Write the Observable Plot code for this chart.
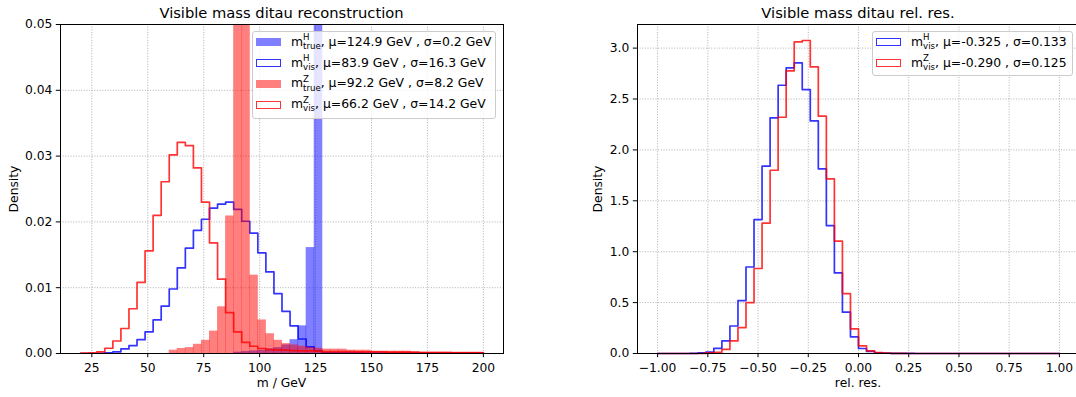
<!DOCTYPE html>
<html><head><meta charset="utf-8">
<script src="https://cdn.jsdelivr.net/npm/d3@7"></script>
<script src="https://cdn.jsdelivr.net/npm/@observablehq/plot@0.6"></script>
<style>
html,body{margin:0;padding:0;background:#fff;overflow:hidden;}
#fig{position:relative;width:1076px;height:397px;overflow:hidden;font-family:"DejaVu Sans",sans-serif;color:#000;}
#fig svg{position:absolute;top:0;}
.t{position:absolute;white-space:nowrap;font-size:12.4px;line-height:14px;}
.title{position:absolute;white-space:nowrap;font-size:14.7px;line-height:17px;transform:translateX(-50%);}
.ylab{position:absolute;white-space:nowrap;font-size:12.3px;line-height:14px;transform:translate(-50%,-50%) rotate(-90deg);}
.xlab{position:absolute;white-space:nowrap;font-size:12.3px;line-height:14px;transform:translateX(-50%);}
.legbox{position:absolute;background:rgba(255,255,255,0.8);border:1px solid #cccccc;border-radius:3px;box-sizing:border-box;}
.patch{position:absolute;width:25px;height:8.3px;box-sizing:border-box;}
.ss{display:inline-block;position:relative;font-size:8.6px;line-height:8.6px;}
.ss .sub{position:relative;top:3.2px;}
.ss .sup{position:absolute;left:0;top:-5.8px;}
</style></head>
<body><div id="fig"></div>
<script>
// ---------- data ----------
// left panel: visible mass, 50 bins of 3.6 GeV from 20 to 200 GeV
const massBinStart = 20, massBinWidth = 3.6;
const massHTrue = [0,0,0,0,0,0,0,0,0,0, 0,0,0,0,0,0,0,0,0,0.0002, 0.0003,0.0004,0.0005,0.0007,0.0009,0.0013,0.0021,0.0042,0.0161,0.248, 0,0,0,0,0,0,0,0,0,0, 0,0,0,0,0,0,0,0,0,0];
const massHVis = [0,0,0.00003,0.0001,0.00025,0.0007,0.0012,0.0021,0.0033,0.0051, 0.0072,0.0098,0.013,0.016,0.0187,0.0204,0.0221,0.0227,0.023,0.0219, 0.0201,0.0183,0.0153,0.0124,0.0091,0.0064,0.0042,0.0022,0.001,0.0004, 0.0001,0.0001,0.0001,0.0001,0.0001,0.00005,0.00005,0.00005,0.00005,0.00005, 0.00005,0.00005,0.00005,0.00005,0.00005,0.00005,0.00005,0.00005,0.00005,0.00005];
const massZTrue = [0,0,0,0,0,0,0,0,0,0, 0,0.0005,0.00076,0.0009,0.0014,0.002,0.0034,0.0071,0.0209,0.105, 0.098,0.0119,0.0051,0.003,0.002,0.0015,0.0013,0.0011,0.0009,0.0008, 0.00066,0.00066,0.00066,0.0005,0.0005,0.0005,0.00035,0.00035,0.00035,0.00035, 0.00035,0.0002,0.0002,0.0002,0.0002,0.0002,0.0002,0.0002,0.0002,0.0002];
const massZVis = [0.00005,0.0001,0.00025,0.0008,0.0019,0.0038,0.0068,0.0108,0.0156,0.021, 0.0261,0.0302,0.0321,0.0316,0.0282,0.023,0.0168,0.0113,0.0062,0.0033, 0.0017,0.0011,0.00076,0.0006,0.00055,0.0005,0.00045,0.0004,0.0004,0.00035, 0.0003,0.0003,0.0003,0.0003,0.00025,0.00025,0.00025,0.00025,0.0002,0.0002, 0.0002,0.0002,0.00015,0.00015,0.00015,0.00015,0.0001,0.0001,0.0001,0.0001];
const massTicks = [25,50,75,100,125,150,175,200];
const massDensTicks = [0,0.01,0.02,0.03,0.04,0.05];

// right panel: relative resolution, 50 bins of 0.04 from -1 to 1
const relBinStart = -1, relBinWidth = 0.04;
const relHVis = [0,0,0,0,0.002,0.007,0.013,0.05,0.124,0.27, 0.52,0.85,1.316,1.84,2.315,2.635,2.806,2.855,2.593,2.285, 1.814,1.257,0.792,0.406,0.164,0.049,0.02,0.007,0.003,0.002, 0.001,0.001,0,0,0,0,0,0,0,0, 0,0,0,0,0,0,0,0,0,0];
const relZVis = [0,0,0,0,0,0,0.007,0.012,0.04,0.124, 0.255,0.5,0.835,1.28,1.8,2.321,2.776,3.061,3.075,2.815, 2.331,1.716,1.103,0.589,0.242,0.075,0.026,0.01,0.004,0.002, 0.001,0,0,0,0,0,0,0,0,0, 0,0,0,0,0,0,0,0,0,0];
const relTicks = [-1,-0.75,-0.5,-0.25,0,0.25,0.5,0.75,1];
const relDensTicks = [0,0.5,1,1.5,2,2.5,3];

const legendLeft = [
  {sup:"H", sub:"true", text:", μ=124.9 GeV , σ=0.2 GeV", kind:"fill", color:"0,0,255"},
  {sup:"H", sub:"vis", text:", μ=83.9 GeV , σ=16.3 GeV", kind:"step", color:"0,0,255"},
  {sup:"Z", sub:"true", text:", μ=92.2 GeV , σ=8.2 GeV", kind:"fill", color:"255,0,0"},
  {sup:"Z", sub:"vis", text:", μ=66.2 GeV , σ=14.2 GeV", kind:"step", color:"255,0,0"}
];
const legendRight = [
  {sup:"H", sub:"vis", text:", μ=-0.325 , σ=0.133", kind:"step", color:"0,0,255"},
  {sup:"Z", sub:"vis", text:", μ=-0.290 , σ=0.125", kind:"step", color:"255,0,0"}
];

// ---------- helpers ----------
function bars(vals, start, w) {
  return vals.map((v, i) => ({x1: start + i * w, x2: start + (i + 1) * w, y: v})).filter(d => d.y > 0);
}
function steps(vals, start, w) {
  const pts = [{x: start, y: 0}];
  vals.forEach((v, i) => { pts.push({x: start + i * w, y: v}); pts.push({x: start + (i + 1) * w, y: v}); });
  pts.push({x: start + vals.length * w, y: 0});
  return pts;
}
const minus = s => s.replace("-", "\u2212");
const gridStyle = {stroke: "#b0b0b0", strokeOpacity: 1, strokeWidth: 1, strokeDasharray: "1,1.65"};
const plotStyle = {fontFamily: "DejaVu Sans", fontSize: "12.3px", background: "transparent", color: "black", overflow: "visible"};

// ---------- left chart ----------
const left = Plot.plot({
  width: 530, height: 397,
  marginLeft: 60, marginRight: 27, marginTop: 24, marginBottom: 44,
  style: plotStyle,
  x: {domain: [11, 209], ticks: massTicks, tickSize: 4.2, tickPadding: 6, label: null, tickFormat: d => String(d)},
  y: {domain: [0, 0.05], ticks: massDensTicks, tickSize: 4.2, tickPadding: 4, label: null, tickFormat: d3.format(".2f")},
  marks: [
    Plot.ruleX(massTicks, gridStyle),
    Plot.ruleY(massDensTicks.slice(1, -1), gridStyle),
    Plot.rectY(bars(massHTrue, massBinStart, massBinWidth), {x1: "x1", x2: "x2", y: "y", fill: "blue", fillOpacity: 0.5, clip: true, insetRight: -0.5}),
    Plot.line(steps(massHVis, massBinStart, massBinWidth), {x: "x", y: "y", stroke: "blue", strokeOpacity: 0.8, strokeWidth: 1.7, clip: true}),
    Plot.rectY(bars(massZTrue, massBinStart, massBinWidth), {x1: "x1", x2: "x2", y: "y", fill: "red", fillOpacity: 0.5, clip: true, insetRight: -0.5}),
    Plot.line(steps(massZVis, massBinStart, massBinWidth), {x: "x", y: "y", stroke: "red", strokeOpacity: 0.8, strokeWidth: 1.7, clip: true}),
    Plot.frame({stroke: "black", strokeWidth: 1})
  ]
});
left.style.left = "0px";

// ---------- right chart ----------
const right = Plot.plot({
  width: 520, height: 397,
  marginLeft: 77, marginRight: 1, marginTop: 24, marginBottom: 44,
  style: plotStyle,
  x: {domain: [-1.1, 1.1], ticks: relTicks, tickSize: 4.2, tickPadding: 6, label: null, tickFormat: d => minus(d.toFixed(2))},
  y: {domain: [0, 3.232], ticks: relDensTicks, tickSize: 4.2, tickPadding: 4, label: null, tickFormat: d => d.toFixed(1)},
  marks: [
    Plot.ruleX(relTicks, gridStyle),
    Plot.ruleY(relDensTicks.slice(1), gridStyle),
    Plot.line(steps(relHVis, relBinStart, relBinWidth), {x: "x", y: "y", stroke: "blue", strokeOpacity: 0.8, strokeWidth: 1.7}),
    Plot.line(steps(relZVis, relBinStart, relBinWidth), {x: "x", y: "y", stroke: "red", strokeOpacity: 0.8, strokeWidth: 1.7}),
    Plot.frame({stroke: "black", strokeWidth: 1})
  ]
});
right.style.left = "560px";

const fig = document.getElementById("fig");
fig.appendChild(left);
fig.appendChild(right);

// ---------- text ----------
function addDiv(cls, html, css) {
  const d = document.createElement("div");
  d.className = cls; d.innerHTML = html;
  Object.assign(d.style, css);
  fig.appendChild(d);
  return d;
}
addDiv("title", "Visible mass ditau reconstruction", {left: "281.5px", top: "3.8px"});
addDiv("title", "Visible mass ditau rel. res.", {left: "858px", top: "3.8px"});
addDiv("ylab", "Density", {left: "13.5px", top: "188.5px"});
addDiv("ylab", "Density", {left: "598px", top: "188.5px"});
addDiv("xlab", "m / GeV", {left: "281.5px", top: "376.3px"});
addDiv("xlab", "rel. res.", {left: "858px", top: "376.3px"});

function legend(entries, box, patchX, textX, firstCenter, spacing) {
  addDiv("legbox", "", {left: box[0] + "px", top: box[1] + "px", width: box[2] + "px", height: box[3] + "px"});
  entries.forEach((e, i) => {
    const c = firstCenter + i * spacing;
    const p = addDiv("patch", "", {left: patchX + "px", top: (c - 4.15) + "px"});
    if (e.kind === "fill") p.style.background = "rgba(" + e.color + ",0.5)";
    else p.style.border = "1.6px solid rgba(" + e.color + ",0.8)";
    addDiv("t", 'm<span class="ss"><span class="sub">' + e.sub + '</span><span class="sup">' + e.sup + '</span></span>' + e.text,
      {left: textX + "px", top: (c + 3.5 - 11.2) + "px"});
  });
}
legend(legendLeft, [251.7, 30.7, 244.3, 88.3], 255.7, 291, 42.3, 20.9);
legend(legendRight, [871.7, 30.7, 201, 45], 875.7, 911, 42.3, 20.9);
</script>
</body></html>
